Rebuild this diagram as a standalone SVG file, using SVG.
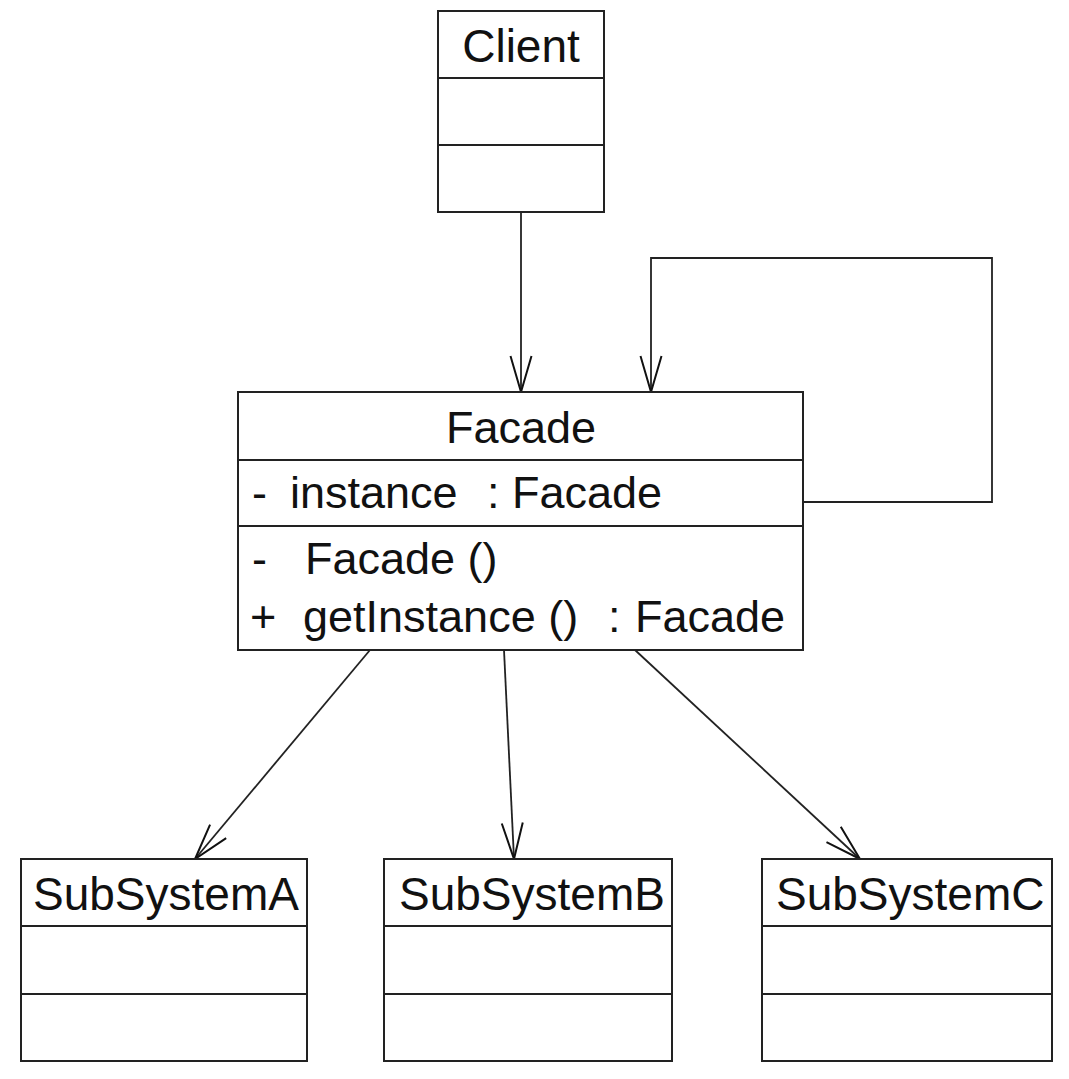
<svg xmlns="http://www.w3.org/2000/svg" width="1069" height="1079" viewBox="0 0 1069 1079">
<style>
.box{fill:#fff;stroke:#222;stroke-width:2}
.div{stroke:#222;stroke-width:2}
.t{font-family:"Liberation Sans",Arial,sans-serif;font-size:45px;fill:#111}
.tl{font-family:"Liberation Sans",Arial,sans-serif;font-size:46px;fill:#111}
.c{fill:none;stroke:#222;stroke-width:1.8}
</style>
<defs>
<marker id="open" markerUnits="userSpaceOnUse" markerWidth="40" markerHeight="26" viewBox="-38 -13 40 26" refX="0" refY="0" orient="auto">
<path d="M-36,-10.5 L0,0 L-36,10.5" fill="none" stroke="#111" stroke-width="2"/>
</marker>
</defs>
<rect width="1069" height="1079" fill="#fff"/>
<g id="connectors">
<line class="c" x1="521" y1="212" x2="521" y2="392" marker-end="url(#open)"/>
<polyline class="c" points="803,502 992,502 992,258 651,258 651,392" marker-end="url(#open)"/>
<line class="c" x1="370" y1="650" x2="195" y2="859" marker-end="url(#open)"/>
<line class="c" x1="504" y1="650" x2="514" y2="859" marker-end="url(#open)"/>
<line class="c" x1="635" y1="650" x2="860" y2="859" marker-end="url(#open)"/>
</g>
<g id="client">
<rect class="box" x="438" y="11" width="166" height="201"/>
<line class="div" x1="438" y1="78" x2="604" y2="78"/>
<line class="div" x1="438" y1="145" x2="604" y2="145"/>
<text class="tl" x="521" y="62" text-anchor="middle">Client</text>
</g>
<g id="facade">
<rect class="box" x="238" y="392" width="565" height="258"/>
<line class="div" x1="238" y1="460" x2="803" y2="460"/>
<line class="div" x1="238" y1="526" x2="803" y2="526"/>
<text class="t" x="521" y="443" text-anchor="middle">Facade</text>
<text class="t" y="508"><tspan x="252">-</tspan><tspan x="290">instance</tspan><tspan x="487">:</tspan><tspan x="512">Facade</tspan></text>
<text class="t" y="574"><tspan x="252">-</tspan><tspan x="305">Facade ()</tspan></text>
<text class="t" y="632"><tspan x="250">+</tspan><tspan x="303">getInstance ()</tspan><tspan x="608">:</tspan><tspan x="635">Facade</tspan></text>
</g>
<g id="subsystemA">
<rect class="box" x="21" y="859" width="286" height="202"/>
<line class="div" x1="21" y1="926" x2="307" y2="926"/>
<line class="div" x1="21" y1="994" x2="307" y2="994"/>
<text class="tl" x="33" y="910">SubSystemA</text>
</g>
<g id="subsystemB">
<rect class="box" x="384" y="859" width="288" height="202"/>
<line class="div" x1="384" y1="926" x2="672" y2="926"/>
<line class="div" x1="384" y1="994" x2="672" y2="994"/>
<text class="tl" x="399" y="910">SubSystemB</text>
</g>
<g id="subsystemC">
<rect class="box" x="762" y="859" width="290" height="202"/>
<line class="div" x1="762" y1="926" x2="1052" y2="926"/>
<line class="div" x1="762" y1="994" x2="1052" y2="994"/>
<text class="tl" x="776" y="910">SubSystemC</text>
</g>
</svg>
